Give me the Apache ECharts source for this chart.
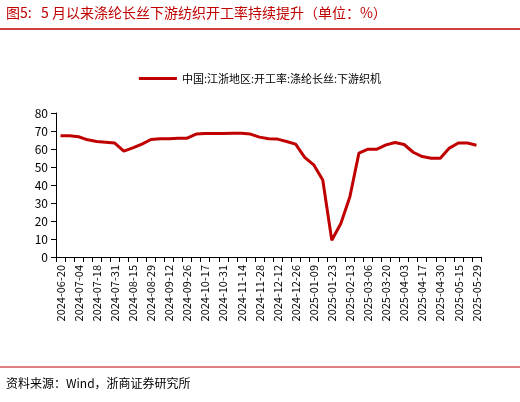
<!DOCTYPE html>
<html>
<head>
<meta charset="utf-8">
<script src="https://cdn.jsdelivr.net/npm/echarts@6/dist/echarts.min.js"></script>
<style>body{margin:0;background:#fff}#c{width:520px;height:402px}</style>
</head>
<body>
<div id="c"></div>
<script>
// 日期（周度）
var dates = ['2024-06-20','2024-06-27','2024-07-04','2024-07-11','2024-07-18','2024-07-25','2024-07-31','2024-08-08',
  '2024-08-15','2024-08-22','2024-08-29','2024-09-05','2024-09-12','2024-09-19','2024-09-26','2024-10-10',
  '2024-10-17','2024-10-24','2024-10-31','2024-11-07','2024-11-14','2024-11-21','2024-11-28','2024-12-05',
  '2024-12-12','2024-12-19','2024-12-26','2025-01-02','2025-01-09','2025-01-16','2025-01-23','2025-02-06',
  '2025-02-13','2025-02-27','2025-03-06','2025-03-13','2025-03-20','2025-03-27','2025-04-03','2025-04-10',
  '2025-04-17','2025-04-24','2025-04-30','2025-05-08','2025-05-15','2025-05-22','2025-05-29'];
// 江浙地区开工率:涤纶长丝:下游织机
var rates = [67.3,67.3,66.8,65.1,64.2,63.8,63.3,58.8,60.6,62.7,65.3,65.7,65.7,66,66,68.3,
  68.6,68.6,68.6,68.8,68.8,68.3,66.6,65.7,65.5,64.2,62.7,55.4,51.2,42.8,9.3,18.6,
  33.5,57.7,59.9,59.9,62.3,63.6,62.5,58.2,55.8,54.9,54.9,60.5,63.3,63.3,62.1];
var yTicks = [0,10,20,30,40,50,60,70,80];

var chart = echarts.init(document.getElementById('c'));
var font = '"Noto Sans CJK SC", sans-serif';
chart.setOption({
  animation:false,
  graphic:[
    {type:'text',left:6,top:6,style:{text:'图5:   5 月以来涤纶长丝下游纺织开工率持续提升（单位：%）',fill:'#c00000',font:'14px '+font}},
    {type:'line',shape:{x1:0,y1:29,x2:520,y2:29},style:{stroke:'#c00000',lineWidth:1.5}},
    {type:'line',shape:{x1:0,y1:367,x2:520,y2:367},style:{stroke:'#c00000',lineWidth:1}},
    {type:'text',left:6,top:377,style:{text:'资料来源：Wind，浙商证券研究所',fill:'#000',font:'12px '+font}}
  ],
  legend:{top:68,left:'center',itemWidth:38,itemHeight:3,icon:'rect',
    textStyle:{fontFamily:font,fontSize:11,color:'#000'}},
  grid:{left:56,right:39,top:113,bottom:145},
  xAxis:{type:'category',data:dates,boundaryGap:true,
    axisLine:{lineStyle:{color:'#000'}},
    axisTick:{show:true,interval:0,lineStyle:{color:'#000'}},
    axisLabel:{interval:1,rotate:90,color:'#000',fontFamily:font,fontSize:11}},
  yAxis:{type:'value',min:yTicks[0],max:yTicks[yTicks.length-1],interval:10,
    axisLine:{show:true,lineStyle:{color:'#000'}},
    axisTick:{show:true,lineStyle:{color:'#000'}},
    splitLine:{show:false},
    axisLabel:{color:'#000',fontFamily:font,fontSize:12}},
  series:[{name:'中国:江浙地区:开工率:涤纶长丝:下游织机',type:'line',data:rates,
    showSymbol:false,lineStyle:{color:'#c00000',width:3},itemStyle:{color:'#c00000'}}]
});
</script>
</body>
</html>
